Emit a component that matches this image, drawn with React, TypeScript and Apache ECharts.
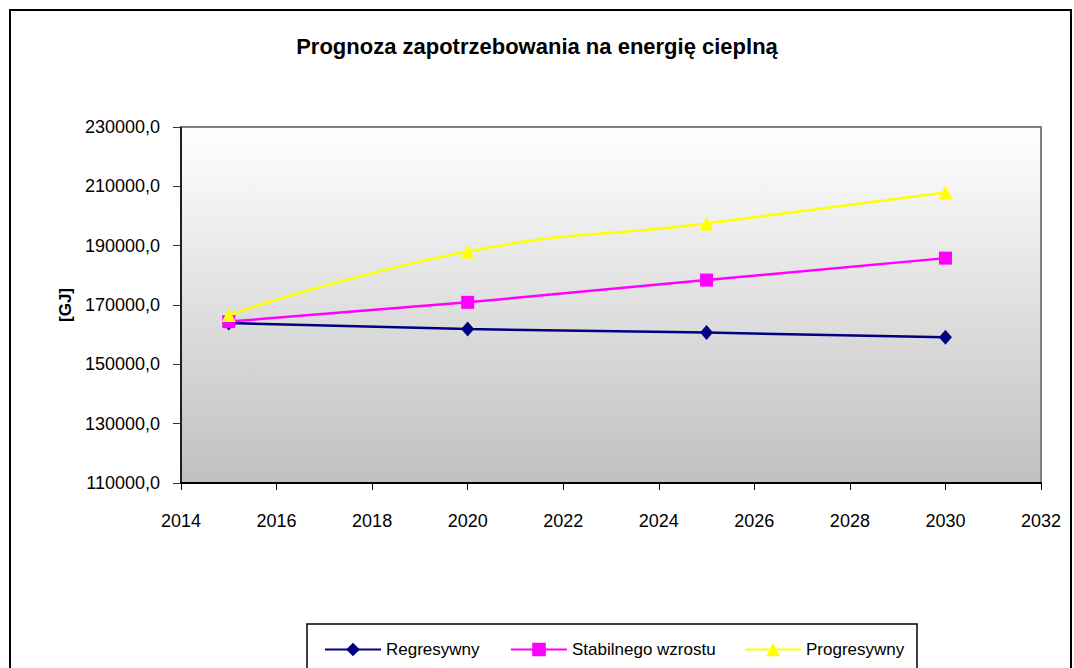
import React, { useEffect, useRef } from "react";
import * as echarts from "echarts";

const years = [2015, 2020, 2025, 2030];
const regresywny = [163900, 161900, 160700, 159100];
const stabilnego = [164400, 170900, 178400, 185800];
const progresywny = [166600, 188000, 197500, 207900];
const yTicks = [110000, 130000, 150000, 170000, 190000, 210000, 230000];
const seriesNames = ["Regresywny", "Stabilnego wzrostu", "Progresywny"];
const titleText = "Prognoza zapotrzebowania na energię cieplną";
const yAxisName = "[GJ]";

const FONT = "'Liberation Sans', Arial, sans-serif";

export default function App() {
  const ref = useRef<HTMLDivElement>(null);
  useEffect(() => {
    if (!ref.current) return;
    const chart = echarts.init(ref.current, null, { renderer: "svg" });
    const pair = (vals: number[]) => years.map((y, i) => [y, vals[i]]);
    const legendBase = {
      top: 641,
      itemWidth: 56,
      itemHeight: 17,
      padding: 0,
      selectedMode: false,
      textStyle: { fontSize: 17, color: "#000", fontFamily: FONT },
    };
    chart.setOption({
      animation: false,
      backgroundColor: "#fff",
      title: {
        text: titleText,
        left: "center",
        top: 35,
        padding: 0,
        textStyle: { fontSize: 22, fontWeight: "bold", color: "#000", fontFamily: FONT },
      },
      grid: {
        left: 181,
        right: 33,
        top: 127,
        bottom: 185,
        show: true,
        borderColor: "#808080",
        borderWidth: 2,
        backgroundColor: {
          type: "linear",
          x: 0,
          y: 0,
          x2: 0,
          y2: 1,
          colorStops: [
            { offset: 0, color: "#ffffff" },
            { offset: 1, color: "#c0c0c0" },
          ],
        },
      },
      legend: [
        { ...legendBase, left: 324, data: [seriesNames[0]] },
        { ...legendBase, left: 510, data: [seriesNames[1]] },
        { ...legendBase, left: 744, data: [seriesNames[2]] },
      ],
      xAxis: {
        type: "value",
        min: 2014,
        max: 2032,
        interval: 2,
        splitLine: { show: false },
        axisLine: { show: true, onZero: false, lineStyle: { color: "#000", width: 2 } },
        axisTick: { show: true, length: 7, lineStyle: { color: "#000", width: 1 } },
        axisLabel: {
          margin: 29,
          fontSize: 18,
          color: "#000",
          fontFamily: FONT,
          formatter: (v: number) => String(v),
        },
      },
      yAxis: {
        type: "value",
        min: yTicks[0],
        max: yTicks[yTicks.length - 1],
        name: yAxisName,
        nameLocation: "middle",
        nameRotate: 90,
        nameGap: 78,
        nameTextStyle: { fontSize: 17, fontWeight: "bold", color: "#000", fontFamily: FONT },
        splitLine: { show: false },
        axisLine: { show: true, onZero: false, lineStyle: { color: "#000", width: 1.5 } },
        axisTick: { show: true, length: 8, customValues: yTicks, lineStyle: { color: "#333", width: 1 } },
        axisLabel: {
          margin: 21,
          fontSize: 18,
          color: "#000",
          fontFamily: FONT,
          customValues: yTicks,
          formatter: (v: number) => v.toFixed(1).replace(".", ","),
        },
      },
      series: [
        {
          name: seriesNames[0],
          type: "line",
          data: pair(regresywny),
          symbol: "diamond",
          symbolSize: [13, 15],
          color: "#000080",
          lineStyle: { color: "#000080", width: 2.5 },
          itemStyle: { color: "#000080" },
          z: 2,
        },
        {
          name: seriesNames[1],
          type: "line",
          data: pair(stabilnego),
          symbol: "rect",
          symbolSize: 13,
          color: "#ff00ff",
          lineStyle: { color: "#ff00ff", width: 2.5 },
          itemStyle: { color: "#ff00ff" },
          z: 3,
        },
        {
          name: seriesNames[2],
          type: "line",
          data: pair(progresywny),
          symbol: "triangle",
          symbolSize: 14,
          smooth: 0.5,
          color: "#ffff00",
          lineStyle: { color: "#ffff00", width: 2.5 },
          itemStyle: { color: "#ffff00" },
          z: 4,
        },
      ],
      graphic: [
        {
          type: "rect",
          shape: { x: 10, y: 10, width: 1061, height: 700 },
          style: { fill: "none", stroke: "#000", lineWidth: 2 },
          silent: true,
        },
        {
          type: "rect",
          shape: { x: 307, y: 624, width: 610, height: 80 },
          style: { fill: "none", stroke: "#000", lineWidth: 1.5 },
          silent: true,
        },
      ],
    });
    return () => chart.dispose();
  }, []);
  return (
    <div
      ref={ref}
      style={{ position: "fixed", left: 0, top: 0, width: 1074, height: 668, background: "#fff" }}
    />
  );
}
